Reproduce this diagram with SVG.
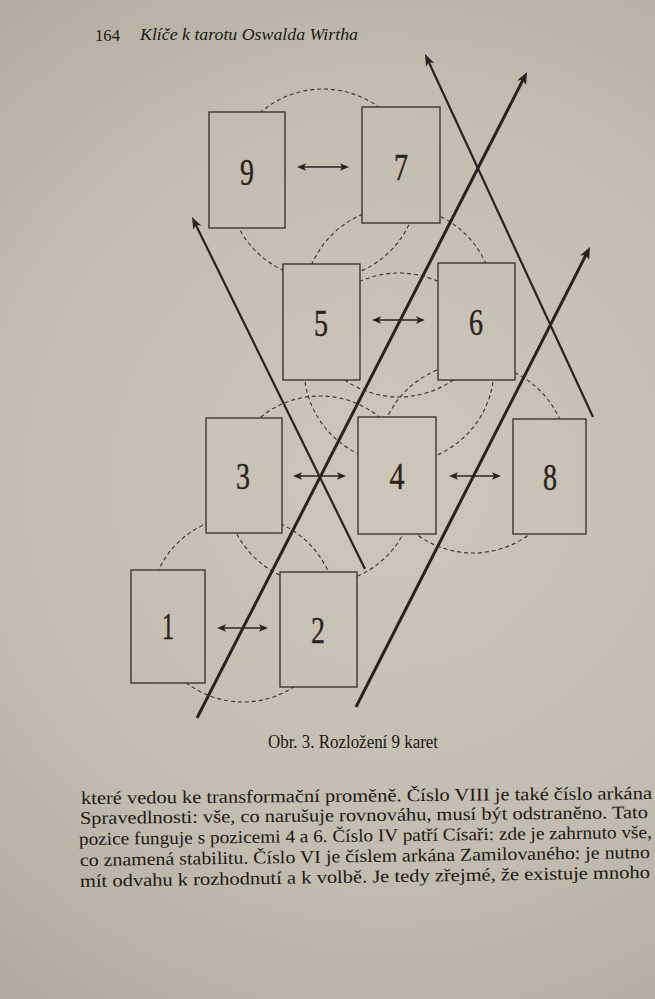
<svg xmlns="http://www.w3.org/2000/svg" width="655" height="999" viewBox="0 0 655 999">
  <defs>
    <radialGradient id="paper" gradientUnits="userSpaceOnUse" cx="390" cy="480" r="720">
      <stop offset="0" stop-color="#ccc7b9"/>
      <stop offset="0.55" stop-color="#c2bdaf"/>
      <stop offset="1" stop-color="#a9a496"/>
    </radialGradient>
    <marker id="ahBig" viewBox="-5 -6 15 12" refX="0" refY="0" markerWidth="15" markerHeight="12" markerUnits="userSpaceOnUse" orient="auto">
      <path d="M8,0 L-4,-5 L-1,0 L-4,5 Z" fill="#2b2220"/>
    </marker>
    <marker id="ahMid" viewBox="-5 -6 15 12" refX="0" refY="0" markerWidth="15" markerHeight="12" markerUnits="userSpaceOnUse" orient="auto">
      <path d="M8,0 L-4,-4.5 L-1,0 L-4,4.5 Z" fill="#2b2220"/>
    </marker>
    <marker id="ahSmall" viewBox="-4 -5 11 10" refX="0" refY="0" markerWidth="11" markerHeight="10" markerUnits="userSpaceOnUse" orient="auto-start-reverse">
      <path d="M6,0 L-3,-3.8 L-1,0 L-3,3.8 Z" fill="#2b2220"/>
    </marker>
    <style>
      .circ { fill: none; stroke: #3d332e; stroke-width: 1.1; stroke-dasharray: 4 3; }
      .card rect { fill: url(#paper); stroke: #352b27; stroke-width: 1.3; }
      .card text { font-family: "Liberation Serif", "DejaVu Serif", serif; font-size: 38px; fill: #2b2220; stroke: #2b2220; stroke-width: 0.4; text-anchor: middle; }
      .thick { stroke: #2b2220; stroke-width: 3; fill: none; marker-end: url(#ahBig); }
      .thin { stroke: #2b2220; stroke-width: 2.2; fill: none; marker-end: url(#ahMid); }
      .dbl { stroke: #2b2220; stroke-width: 1.5; fill: none; marker-start: url(#ahSmall); marker-end: url(#ahSmall); }
      .body { font-family: "Liberation Serif", "DejaVu Serif", serif; font-size: 18px; fill: #201816; }
      .hdr { font-family: "Liberation Serif", "DejaVu Serif", serif; font-size: 17px; fill: #201816; }
    </style>
  </defs>

  <rect x="0" y="0" width="655" height="999" fill="url(#paper)"/>

  <g id="header">
    <text class="hdr" x="95" y="41" textLength="25" lengthAdjust="spacingAndGlyphs">164</text>
    <text class="hdr" x="140" y="40" font-style="italic" textLength="218" lengthAdjust="spacingAndGlyphs">Klíče k tarotu Oswalda Wirtha</text>
  </g>

  <g id="circles">
    <circle class="circ" cx="323" cy="184" r="95"/>
    <circle class="circ" cx="399" cy="302" r="95"/>
    <circle class="circ" cx="399" cy="368" r="95"/>
    <circle class="circ" cx="473" cy="458" r="95"/>
    <circle class="circ" cx="320" cy="490" r="94"/>
    <circle class="circ" cx="243" cy="609" r="93"/>
  </g>

  <g id="card9" class="card"><rect x="209" y="112" width="76" height="116"/><text x="247" y="185" textLength="14" lengthAdjust="spacingAndGlyphs">9</text></g>
  <g id="card7" class="card"><rect x="362" y="107" width="78" height="116"/><text x="401" y="180" textLength="14" lengthAdjust="spacingAndGlyphs">7</text></g>
  <g id="card5" class="card"><rect x="283" y="264" width="77" height="116"/><text x="321" y="336" textLength="14" lengthAdjust="spacingAndGlyphs">5</text></g>
  <g id="card6" class="card"><rect x="438" y="263" width="77" height="117"/><text x="476" y="335" textLength="14" lengthAdjust="spacingAndGlyphs">6</text></g>
  <g id="card3" class="card"><rect x="206" y="418" width="76" height="115"/><text x="243" y="489" textLength="14" lengthAdjust="spacingAndGlyphs">3</text></g>
  <g id="card4" class="card"><rect x="358" y="417" width="78" height="117"/><text x="397" y="489" textLength="15" lengthAdjust="spacingAndGlyphs">4</text></g>
  <g id="card8" class="card"><rect x="513" y="419" width="73" height="115"/><text x="550" y="490" textLength="14" lengthAdjust="spacingAndGlyphs">8</text></g>
  <g id="card1" class="card"><rect x="131" y="570" width="74" height="113"/><text x="168" y="639" textLength="12" lengthAdjust="spacingAndGlyphs">1</text></g>
  <g id="card2" class="card"><rect x="280" y="572" width="77" height="115"/><text x="318" y="643" textLength="14" lengthAdjust="spacingAndGlyphs">2</text></g>

  <g id="connectors">
    <line class="dbl" x1="303" y1="167" x2="343" y2="167"/>
    <line class="dbl" x1="378" y1="320" x2="419" y2="320"/>
    <line class="dbl" x1="299" y1="476" x2="340" y2="476"/>
    <line class="dbl" x1="455" y1="476" x2="495" y2="476"/>
    <line class="dbl" x1="223" y1="628" x2="262" y2="628"/>
    <line class="thick" x1="197" y1="718" x2="523.4" y2="79.1"/>
    <line class="thick" x1="356" y1="707" x2="586.4" y2="254.1"/>
    <line class="thin" x1="593" y1="417" x2="428.4" y2="61.3"/>
    <line class="thin" x1="365" y1="569" x2="195.5" y2="224.2"/>
  </g>

  <g id="caption">
    <text class="body" x="268" y="748" font-size="15" textLength="170" lengthAdjust="spacingAndGlyphs">Obr. 3. Rozložení 9 karet</text>
  </g>

  <g id="bodytext">
    <text class="body" x="81" y="804" textLength="571" lengthAdjust="spacingAndGlyphs" transform="rotate(-0.5 81 804)">které vedou ke transformační proměně. Číslo VIII je také číslo arkána</text>
    <text class="body" x="80" y="824" textLength="568" lengthAdjust="spacingAndGlyphs" transform="rotate(-0.6 80 824)">Spravedlnosti: vše, co narušuje rovnováhu, musí být odstraněno. Tato</text>
    <text class="body" x="79" y="845" textLength="573" lengthAdjust="spacingAndGlyphs" transform="rotate(-0.7 79 845)">pozice funguje s pozicemi 4 a 6. Číslo IV patří Císaři: zde je zahrnuto vše,</text>
    <text class="body" x="80" y="866" textLength="570" lengthAdjust="spacingAndGlyphs" transform="rotate(-0.8 80 866)">co znamená stabilitu. Číslo VI je číslem arkána Zamilovaného: je nutno</text>
    <text class="body" x="80" y="887" textLength="570" lengthAdjust="spacingAndGlyphs" transform="rotate(-0.9 80 887)">mít odvahu k rozhodnutí a k volbě. Je tedy zřejmé, že existuje mnoho</text>
  </g>
</svg>
